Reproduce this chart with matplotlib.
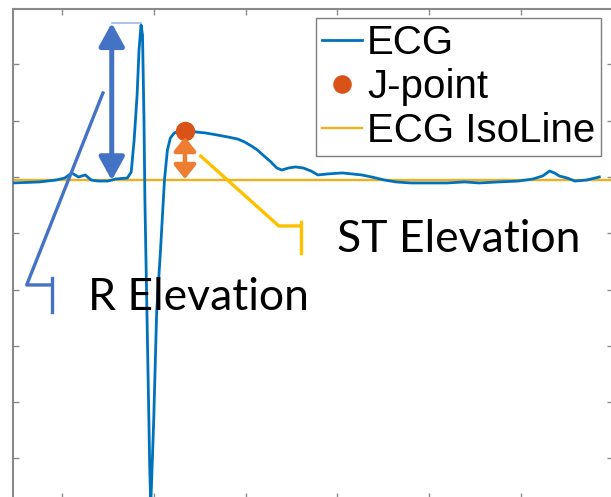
import matplotlib.pyplot as plt
from matplotlib.patches import FancyArrowPatch

# ========== DATA ==========
# time (s) and amplitude (mV)
ecg_t = [0.0468, 0.0755, 0.0936, 0.1032, 0.1106, 0.1181, 0.1255, 0.1319, 0.1394, 0.1500,
         0.1585, 0.1713, 0.1755, 0.1787, 0.1819, 0.1840, 0.1862, 0.1878, 0.1894, 0.1904,
         0.1926, 0.1957, 0.1968, 0.2000, 0.2032, 0.2074, 0.2117, 0.2149, 0.2181, 0.2223,
         0.2277, 0.2340, 0.2404, 0.2457, 0.2564, 0.2691, 0.2809, 0.2915, 0.2989, 0.3064,
         0.3128, 0.3202, 0.3277, 0.3340, 0.3394, 0.3468, 0.3543, 0.3628, 0.3713, 0.3787,
         0.3894, 0.4053, 0.4160, 0.4266, 0.4372, 0.4511, 0.4638, 0.4798, 0.5011, 0.5191,
         0.5383, 0.5543, 0.5755, 0.5968, 0.6128, 0.6234, 0.6309, 0.6362, 0.6415, 0.6500,
         0.6585, 0.6713, 0.6851]
ecg_v = [-0.053, -0.044, -0.027, -0.009, 0.036, 0.000, 0.018, -0.027, -0.036, -0.036,
         -0.018, -0.009, 0.044, 0.329, 0.728, 1.128, 1.350, 1.261, 0.506, -0.204,
         -1.199, -2.602, -2.913, -2.158, -1.199, -0.648, -0.027, 0.240, 0.346, 0.391,
         0.409, 0.409, 0.417, 0.400, 0.391, 0.373, 0.355, 0.337, 0.311, 0.275,
         0.240, 0.186, 0.133, 0.080, 0.062, 0.080, 0.089, 0.080, 0.053, 0.018,
         0.027, 0.036, 0.027, 0.018, 0.000, -0.027, -0.044, -0.053, -0.053, -0.053,
         -0.044, -0.053, -0.044, -0.036, -0.018, 0.009, 0.053, 0.036, 0.009, -0.009,
         -0.036, -0.027, 0.000]

isoline_v = -0.03
jpoint_t = 0.234
jpoint_v = 0.41
r_peak_t = 0.1862
r_peak_v = 1.368

# annotation overlays (data units)
r_arrow_t = 0.1543
st_arrow = (0.355, -0.018)
r_callout_t = [0.1447, 0.0617, 0.0894]
r_callout_v = [0.746, -0.959, -0.959]
r_bar_v = (-0.897, -1.199)
st_callout_t = [0.2511, 0.3362, 0.3606]
st_callout_v = [0.186, -0.435, -0.435]
st_bar_v = (-0.400, -0.675)

xticks = [0.1, 0.2, 0.3, 0.4, 0.5, 0.6, 0.7]
yticks = [-2.5, -2.0, -1.5, -1.0, -0.5, 0.0, 0.5, 1.0]

# ========== COLORS ==========
C_ECG = "#0072BD"
C_JPT = "#D95319"
C_ISO = "#EDB120"
C_RBLUE = "#4472C4"
C_ORANGE = "#ED7D31"
C_YELLOW = "#FFC000"
C_AXIS = "#8a8a8a"

W, H = 611, 497
fig = plt.figure(figsize=(W / 100, H / 100), dpi=100)
ax = fig.add_axes([13 / W, -2 / H, 600 / W, 490 / H])

ax.plot(ecg_t, ecg_v, color=C_ECG, lw=2, label="ECG", zorder=3)
ax.plot([jpoint_t], [jpoint_v], "o", color=C_JPT, ms=13, label="J-point", zorder=5)
ax.axhline(isoline_v, color=C_ISO, lw=1.7, label="ECG IsoLine", zorder=2)

ax.set_xlim(0.0468, 0.6851)
ax.set_ylim(-2.860, 1.492)
ax.set_xticks(xticks)
ax.set_yticks(yticks)
ax.tick_params(direction="in", length=4.5, width=1, color=C_AXIS,
               top=True, right=True, labelleft=False, labelbottom=False)
for s in ax.spines.values():
    s.set_color(C_AXIS)
    s.set_linewidth(1.5)

# R elevation arrow and top tick
ax.plot([r_arrow_t, r_peak_t], [r_peak_v, r_peak_v], color="#9DB7E6", lw=1.2, zorder=4)
arr = FancyArrowPatch((r_arrow_t, isoline_v), (r_arrow_t, r_peak_v),
                      arrowstyle="<|-|>,head_length=1.0,head_width=0.55",
                      mutation_scale=14, color=C_RBLUE, lw=3.6, shrinkA=0, shrinkB=0, zorder=6)
ax.add_patch(arr)
# ST elevation arrow
arr2 = FancyArrowPatch((jpoint_t, st_arrow[1]), (jpoint_t, st_arrow[0]),
                       arrowstyle="<|-|>,head_length=0.75,head_width=0.6",
                       mutation_scale=11, color=C_ORANGE, lw=3.2, shrinkA=0, shrinkB=0, zorder=6)
ax.add_patch(arr2)

# callouts
ax.plot(r_callout_t, r_callout_v, color=C_RBLUE, lw=2.4, zorder=6)
ax.plot([r_callout_t[-1]] * 2, r_bar_v, color=C_RBLUE, lw=2.4, zorder=6)
ax.plot(st_callout_t, st_callout_v, color=C_YELLOW, lw=2.4, zorder=6)
ax.plot([st_callout_t[-1]] * 2, st_bar_v, color=C_YELLOW, lw=2.4, zorder=6)

ax.text(0.400, -0.666, "ST Elevation", fontsize=32, family="Lato", color="black",
        ha="left", va="baseline", zorder=7)
ax.text(0.1287, -1.181, "R Elevation", fontsize=32, family="Lato", color="black",
        ha="left", va="baseline", zorder=7)

leg = ax.legend(loc="upper left", bbox_to_anchor=(316 / W, 1 - 18 / H),
                bbox_transform=fig.transFigure, borderaxespad=0, fancybox=False,
                framealpha=1, edgecolor="#7f7f7f", prop={"family": "Liberation Sans", "size": 29},
                handlelength=1.0, handletextpad=0.12, labelspacing=0.15, borderpad=0.15,
                markerscale=0.95)
leg.get_frame().set_linewidth(1)

fig.savefig("out.png", dpi=100)
